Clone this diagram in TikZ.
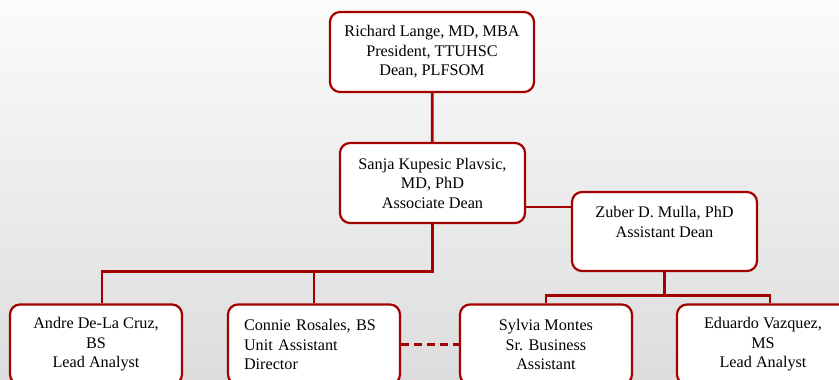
\documentclass[tikz,border=0pt]{standalone}
\usepackage{fontspec}
\setmainfont{Liberation Serif}
\usepackage{tikz}
\usetikzlibrary{positioning}
\definecolor{ttured}{HTML}{A30000}

\begin{document}
\begin{tikzpicture}[x=1pt, y=-1pt,
  person/.style={draw=ttured, line width=2.2pt, rounded corners=10pt, fill=white,
    minimum width=172pt, minimum height=80pt, align=center, inner sep=2pt,
    font=\fontsize{16.2}{19.5}\selectfont},
  link/.style={draw=ttured, line width=2.8pt}]
  \shade[top color=gray!3, bottom color=gray!27] (0,0) rectangle (839,380);
  \useasboundingbox (0,0) rectangle (839,380);

  \node[person, minimum width=204pt] (lange) at (432,52)
    {Richard Lange, MD, MBA\\President, TTUHSC\\Dean, PLFSOM};
  \node[person, minimum width=185pt] (kupesic) at (432.5,183)
    {Sanja Kupesic Plavsic,\\MD, PhD\\Associate Dean};
  \node[person, minimum width=185pt, minimum height=79pt] (mulla) at (664.5,231.5)
    {Zuber D. Mulla, PhD\\Assistant Dean\\\mbox{}};
  \node[person] (delacruz) at (96,344.5) {Andre De-La Cruz,\\BS\\Lead Analyst};
  \node[person, text width=140pt, align=left] (rosales) at (314,344.5)
    {Connie Rosales, BS\\Unit Assistant\\Director};
  \node[person] (montes) at (546,344.5) {Sylvia Montes\\Sr. Business\\Assistant};
  \node[person] (vazquez) at (763,344.5) {Eduardo Vazquez,\\MS\\Lead Analyst};

  \draw[link] (lange) -- (kupesic);
  \draw[link] (kupesic.south) -- ++(0,47) coordinate (staff) -| ([xshift=6pt]delacruz.north);
  \draw[link] (rosales.north) -- (rosales.north |- staff);
  \draw[link] ([yshift=-24pt]kupesic.east) coordinate (k) -- (k -| mulla.west);
  \draw[link] (mulla.south) -- ++(0,23) coordinate (fork) -| (montes.north);
  \draw[link] (fork) -| ([xshift=7pt]vazquez.north);
  \draw[link, dash pattern=on 8pt off 5pt] (rosales.east) -- (montes.west);
\end{tikzpicture}
\end{document}
